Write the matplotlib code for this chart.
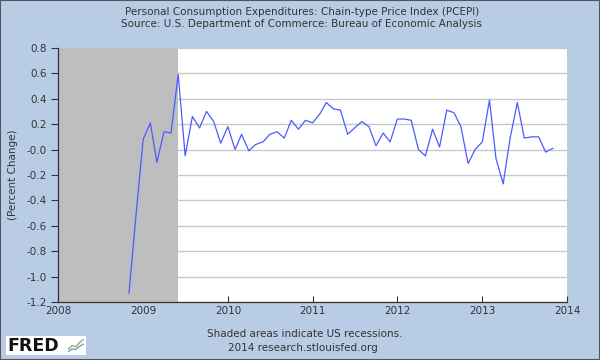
import datetime as dt
import matplotlib
matplotlib.use("Agg")
import matplotlib.pyplot as plt
from matplotlib.patches import Rectangle

# monthly percent change, Nov 2008 .. Nov 2013
start_year, start_month = 2008, 11
pce_change = [
    -1.13, -0.52, 0.08, 0.21, -0.10, 0.14, 0.13, 0.59, -0.05, 0.26,
    0.17, 0.30, 0.22, 0.05, 0.18, 0.00, 0.12, -0.01, 0.04, 0.06,
    0.12, 0.14, 0.09, 0.23, 0.16, 0.23, 0.21, 0.28, 0.37, 0.32,
    0.31, 0.12, 0.17, 0.22, 0.18, 0.03, 0.13, 0.06, 0.24, 0.24,
    0.23, 0.00, -0.05, 0.16, 0.02, 0.31, 0.29, 0.18, -0.11, 0.00,
    0.06, 0.39, -0.07, -0.27, 0.09, 0.37, 0.09, 0.10, 0.10, -0.02,
    0.01,
]
recession_start = dt.date(2007, 12, 1)
recession_end = dt.date(2009, 6, 1)
yticks = [0.8, 0.6, 0.4, 0.2, 0.0, -0.2, -0.4, -0.6, -0.8, -1.0, -1.2]
ytick_labels = ["0.8", "0.6", "0.4", "0.2", "-0.0", "-0.2", "-0.4",
                "-0.6", "-0.8", "-1.0", "-1.2"]
years = [2008, 2009, 2010, 2011, 2012, 2013, 2014]

dates = []
for i in range(len(pce_change)):
    m = start_month - 1 + i
    dates.append(dt.date(start_year + m // 12, m % 12 + 1, 1))

bg = "#b8cce6"
txt = "#333333"

fig = plt.figure(figsize=(6, 3.6), dpi=100, facecolor=bg)
ax = fig.add_axes([0.097, 0.161, 0.848, 0.706])
ax.set_facecolor("white")

for y in yticks:
    ax.axhline(y, color="#c8c8c8", lw=1.0, zorder=1)
ax.axvspan(recession_start, recession_end, color="#bebebe", lw=0, zorder=2)
ax.plot(dates, pce_change, color="#4a5cff", lw=0.9, zorder=3)

ax.set_xlim(dt.date(2008, 1, 1), dt.date(2014, 1, 1))
ax.set_ylim(-1.2, 0.8)
ax.set_yticks(yticks)
ax.set_yticklabels(ytick_labels)
ax.set_xticks([dt.date(y, 1, 1) for y in years])
ax.set_xticklabels([str(y) for y in years])

for s in ["top", "right"]:
    ax.spines[s].set_visible(False)
for s in ["left", "bottom"]:
    ax.spines[s].set_color(txt)
    ax.spines[s].set_linewidth(0.9)
ax.tick_params(axis="y", direction="out", length=5, width=0.8, colors=txt,
               labelsize=7.5, pad=3)
ax.tick_params(axis="x", direction="in", length=4, width=0.8, colors=txt,
               labelsize=7.5, pad=3)
ax.set_ylabel("(Percent Change)", fontsize=7.5, color=txt, labelpad=6)

fig.text(0.503, 0.968, "Personal Consumption Expenditures: Chain-type Price Index (PCEPI)",
         ha="center", va="center", fontsize=7.5, color=txt)
fig.text(0.503, 0.932, "Source: U.S. Department of Commerce: Bureau of Economic Analysis",
         ha="center", va="center", fontsize=7.5, color=txt)
fig.text(0.508, 0.073, "Shaded areas indicate US recessions.",
         ha="center", va="center", fontsize=7.5, color=txt)
fig.text(0.505, 0.033, "2014 research.stlouisfed.org",
         ha="center", va="center", fontsize=7.5, color=txt)

# FRED logo
logo_box = Rectangle((0.01, 0.013), 0.133, 0.053, transform=fig.transFigure,
                     facecolor="white", edgecolor="none", zorder=-1)
fig.patches.append(logo_box)
fig.text(0.013, 0.04, "FRED", ha="left", va="center", fontsize=12.5,
         fontweight="heavy", color="#111111")
icon = fig.add_axes([0.113, 0.02, 0.027, 0.04], zorder=5)
icon.set_axis_off()
icon_x = [0, 1, 2, 3, 4]
icon.plot(icon_x, [0.3, 0.55, 0.45, 0.8, 1.0], color="#8fb36a", lw=1)
icon.plot(icon_x, [0.1, 0.3, 0.25, 0.5, 0.65], color="#7a9cc8", lw=1)
icon.set_xlim(-0.2, 4.2)
icon.set_ylim(0, 1.1)

fig.patches.append(Rectangle((0, 0), 1, 1, transform=fig.transFigure,
                             facecolor="none", edgecolor="#555555", lw=1.5))

fig.savefig("out.png", dpi=100, facecolor=bg)
